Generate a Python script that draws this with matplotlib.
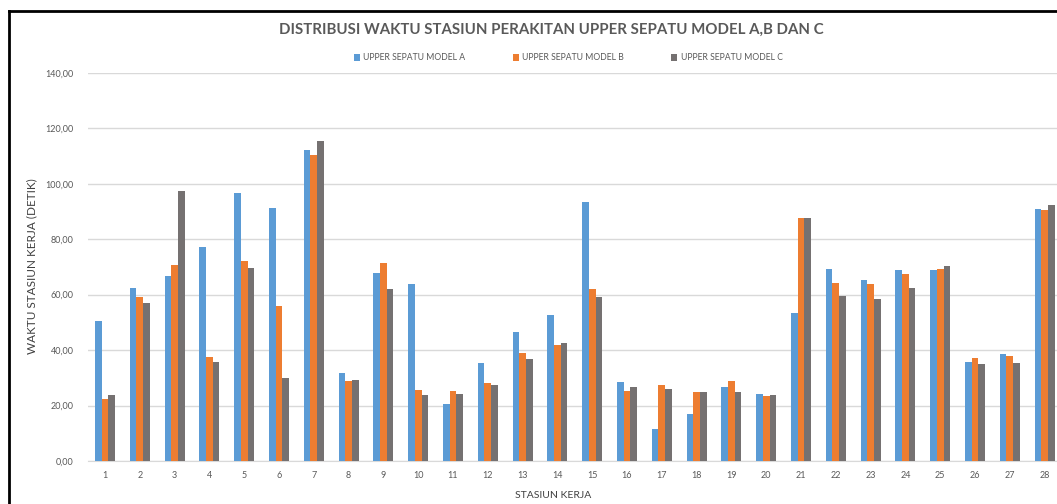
import numpy as np
import matplotlib.pyplot as plt
from matplotlib.ticker import FuncFormatter

stasiun = np.arange(1, 29)
model_a = [50.6, 62.5, 66.7, 77.2, 96.5, 91.4, 112.1, 31.6, 67.7, 63.8,
           20.4, 35.3, 46.5, 52.7, 93.4, 28.6, 11.7, 17.1, 26.6, 24.2,
           53.4, 69.3, 65.3, 68.9, 68.9, 35.7, 38.5, 90.8]
model_b = [22.5, 59.2, 70.7, 37.6, 72.0, 55.8, 110.5, 29.0, 71.3, 25.6,
           25.2, 28.3, 38.8, 41.8, 62.2, 25.2, 27.5, 24.9, 29.0, 23.4,
           87.6, 64.2, 63.8, 67.3, 69.3, 37.0, 38.0, 90.4]
model_c = [23.8, 57.1, 97.5, 35.7, 69.6, 29.9, 115.4, 29.2, 62.2, 23.8,
           24.2, 27.5, 36.8, 42.6, 59.2, 26.6, 26.0, 24.9, 24.9, 23.8,
           87.6, 59.5, 58.4, 62.5, 70.3, 35.0, 35.3, 92.3]
labels = ['UPPER SEPATU MODEL A', 'UPPER SEPATU MODEL B', 'UPPER SEPATU MODEL C']
colors = ['#5B9BD5', '#ED7D31', '#757171']

plt.rcParams['font.family'] = ['Lato', 'DejaVu Sans']
txt = '#595959'

W, H = 1057, 504
fig = plt.figure(figsize=(W / 100, H / 100), dpi=100)

# plot area (right side runs past the cropped screenshot)
left, right, top, bottom = 87.6, 87.6 + 28 * 34.8, 72.85, 461
ax = fig.add_axes([left / W, 1 - bottom / H, (right - left) / W, (bottom - top) / H])

bw = 0.19
for i, (vals, lab, c) in enumerate(zip([model_a, model_b, model_c], labels, colors)):
    ax.bar(stasiun + (i - 1) * bw, vals, width=bw, color=c, label=lab, zorder=3)

ax.set_xlim(0.5, 28.5)
ax.set_ylim(0, 140)
ax.set_yticks(np.arange(0, 141, 20))
ax.yaxis.set_major_formatter(FuncFormatter(lambda v, p: f'{v:.2f}'.replace('.', ',')))
ax.set_xticks(stasiun)
ax.grid(axis='y', color='#D9D9D9', linewidth=1, zorder=0)
for s in ['top', 'right', 'left']:
    ax.spines[s].set_visible(False)
ax.spines['bottom'].set_color('#D9D9D9')
ax.tick_params(axis='both', length=0, colors=txt, labelsize=6.5)
ax.tick_params(axis='y', pad=10)
ax.tick_params(axis='x', pad=7)

fig.text(32 / W, 1 - 266 / H, 'WAKTU STASIUN KERJA (DETIK)', rotation=90, ha='center',
         va='center', fontsize=8.5, color='#404040')
fig.text(553 / W, 1 - 495 / H, 'STASIUN KERJA', ha='center', va='center',
         fontsize=7.5, color='#404040')
fig.text(551 / W, 1 - 30 / H, 'DISTRIBUSI WAKTU STASIUN PERAKITAN UPPER SEPATU MODEL A,B DAN C',
         ha='center', va='center', fontsize=10.8, fontweight='bold', color=txt)

ax.legend(loc='center', bbox_to_anchor=(568 / W, 1 - 58 / H), bbox_transform=fig.transFigure,
          ncol=3, frameon=False, fontsize=6.2, labelcolor=txt, handlelength=0.7,
          handleheight=0.7, handletextpad=0.4, columnspacing=5.5)

# frame of the screenshot
fig.add_artist(plt.Line2D([9 / W, 1], [1 - 10.5 / H, 1 - 10.5 / H], color='black', linewidth=2))
fig.add_artist(plt.Line2D([9 / W, 9 / W], [0, 1 - 10.5 / H], color='black', linewidth=2))

fig.savefig('out.png', dpi=100)
